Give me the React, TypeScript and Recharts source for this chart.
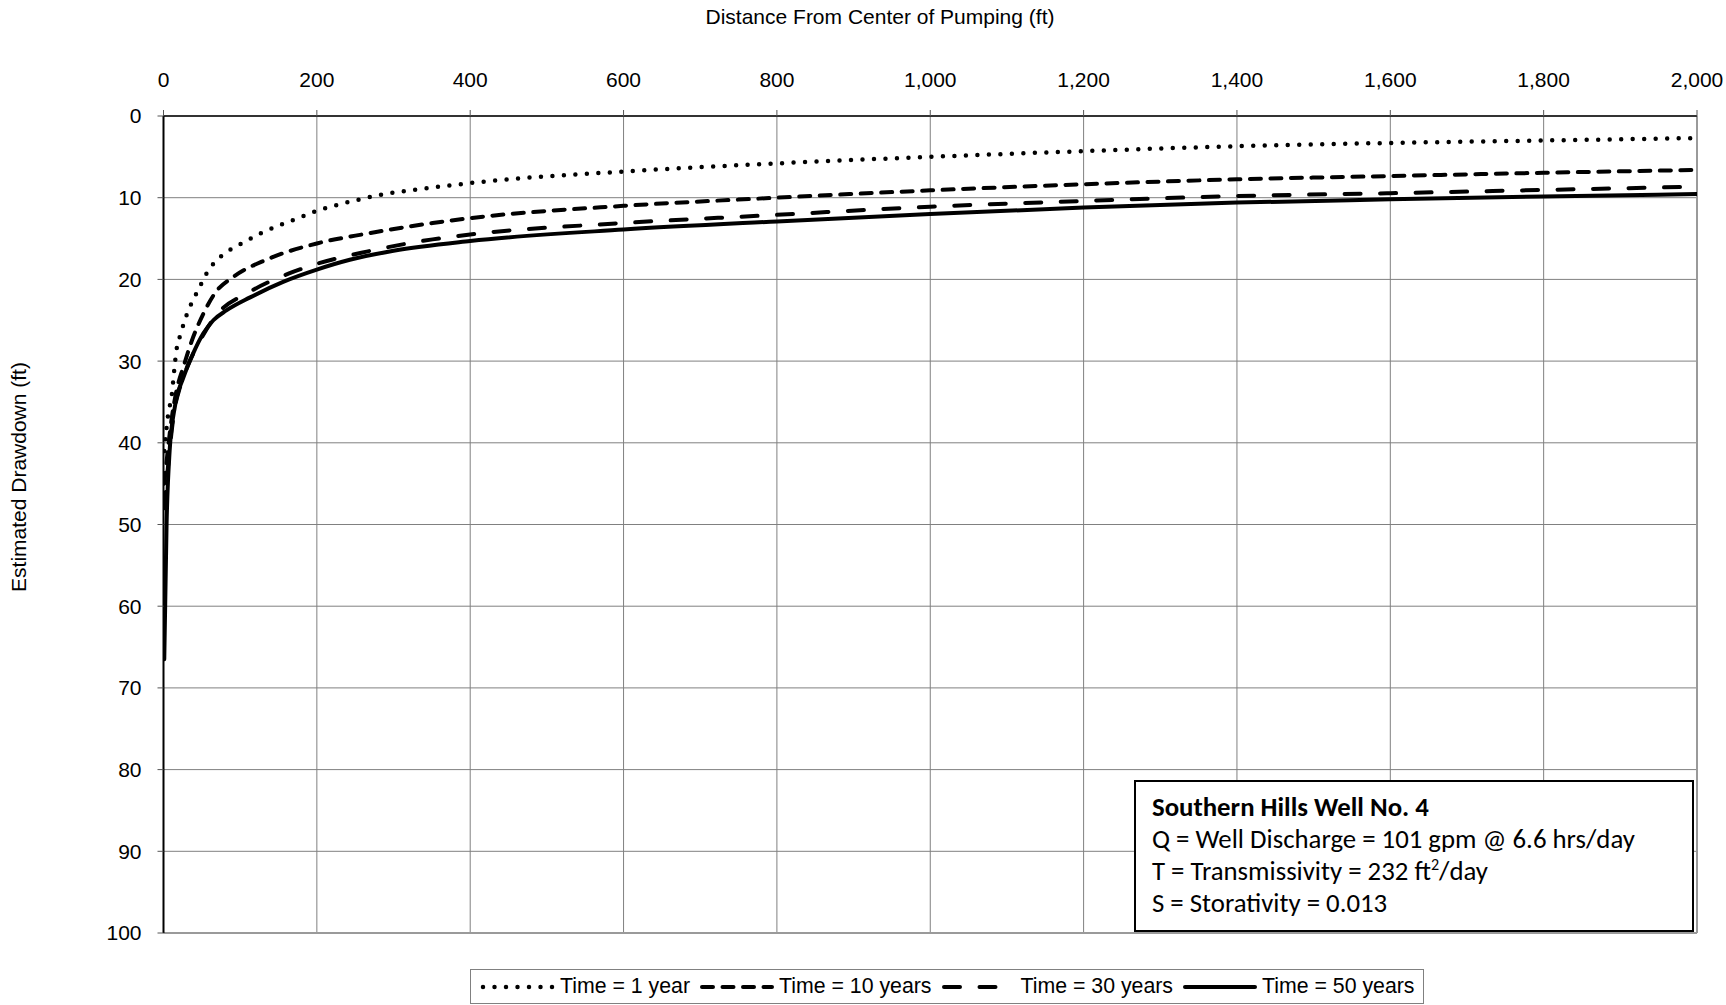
import { LineChart, Line, XAxis, YAxis, CartesianGrid, Legend, ReferenceLine } from 'recharts';

const distanceTicks = [0, 200, 400, 600, 800, 1000, 1200, 1400, 1600, 1800, 2000];
const drawdownTicks = [0, 10, 20, 30, 40, 50, 60, 70, 80, 90, 100];

// Time = 1 year
const dist1yr = [1, 6, 11, 14, 17, 22, 30, 43, 50, 56, 65, 76, 102, 128, 156, 184, 200, 226, 256, 286, 330, 373, 421, 600, 800, 1000, 1200, 1400, 1600, 1800, 2000];
const draw1yr = [41, 36.6, 34, 31.1, 28.6, 26.8, 24.4, 21.7, 20.4, 19.3, 18.1, 17.1, 15.6, 14.3, 13.2, 12.2, 11.6, 10.9, 10.2, 9.6, 9.0, 8.5, 8.0, 6.8, 5.8, 5.0, 4.3, 3.7, 3.3, 3.0, 2.7];

// Time = 10 years
const dist10yr = [1, 11, 17, 26, 37, 52, 67, 91, 134, 200, 265, 351, 400, 600, 800, 1000, 1200, 1400, 1600, 1800, 2000];
const draw10yr = [45, 36.8, 33.6, 30.7, 27.5, 24.2, 21.7, 19.7, 17.6, 15.6, 14.4, 13.1, 12.5, 11.0, 10.0, 9.1, 8.35, 7.75, 7.35, 6.95, 6.6];

// Time = 30 years
const dist30yr = [1, 15, 21.5, 31, 47.6, 67, 113, 163, 200, 265, 351, 400, 600, 800, 1000, 1200, 1400, 1600, 1800, 2000];
const draw30yr = [48, 35.6, 33.2, 30.7, 27.5, 24.6, 21.5, 19.3, 18.1, 16.6, 15.1, 14.5, 13.1, 12.1, 11.1, 10.4, 9.8, 9.45, 9.05, 8.65];

// Time = 50 years
const dist50yr = [1, 4, 8, 15, 26, 39, 52, 65, 82, 113, 156, 200, 243, 300, 400, 600, 800, 1000, 1200, 1400, 1600, 1800, 2000];
const draw50yr = [66.5, 50, 41, 35.5, 32, 29, 26.6, 25, 23.8, 22.2, 20.3, 18.8, 17.6, 16.5, 15.3, 13.9, 12.9, 12.0, 11.2, 10.6, 10.2, 9.85, 9.55];

const SERIES = [
  { key: 'yr1', name: 'Time = 1 year', r: dist1yr, s: draw1yr, width: 4.5, dash: '0 11.5' },
  { key: 'yr10', name: 'Time = 10 years', r: dist10yr, s: draw10yr, width: 4, dash: '11 9.5' },
  { key: 'yr30', name: 'Time = 30 years', r: dist30yr, s: draw30yr, width: 4, dash: '16 19.5' },
  { key: 'yr50', name: 'Time = 50 years', r: dist50yr, s: draw50yr, width: 4, dash: undefined },
];

const ARIAL = '"Liberation Sans", Arial, sans-serif';

function renderLegend() {
  return (
    <div
      style={{
        display: 'flex',
        alignItems: 'center',
        height: 35,
        width: 954,
        boxSizing: 'border-box',
        border: '1px solid #808080',
        background: '#fff',
        paddingLeft: 9,
        fontFamily: ARIAL,
        fontSize: 21.3,
        color: '#000',
        whiteSpace: 'nowrap',
        overflow: 'visible',
      }}
    >
      {SERIES.map(s => (
        <div key={s.key} style={{ display: 'flex', alignItems: 'center', marginRight: 9, flexShrink: 0 }}>
          <svg width={76} height={20} style={{ flexShrink: 0 }}>
            <line
              x1={3}
              x2={73}
              y1={10}
              y2={10}
              stroke="#000"
              strokeWidth={s.width}
              strokeDasharray={s.dash}
              strokeLinecap="round"
            />
          </svg>
          <span style={{ marginLeft: 4, whiteSpace: 'nowrap' }}>{s.name}</span>
        </div>
      ))}
    </div>
  );
}

export default function App() {
  return (
    <div style={{ position: 'absolute', left: 0, top: 0, width: 1726, height: 1005, background: '#fff' }}>
      <LineChart width={1726} height={1005} margin={{ top: 0, right: 29, bottom: 72, left: 0 }}>
        <CartesianGrid stroke="#808080" strokeWidth={1} />
        <XAxis
          type="number"
          dataKey="r"
          orientation="top"
          height={116}
          domain={[0, 2000]}
          ticks={distanceTicks}
          tickFormatter={v => v.toLocaleString('en-US')}
          tick={{ fill: '#000', fontSize: 21, fontFamily: ARIAL }}
          tickSize={6}
          tickMargin={23}
          axisLine={{ stroke: '#333', strokeWidth: 2 }}
          tickLine={{ stroke: '#555' }}
          allowDataOverflow
          label={{
            content: () => (
              <text x={880} y={24} textAnchor="middle" fontSize={21} fontFamily={ARIAL} fill="#000">
                Distance From Center of Pumping (ft)
              </text>
            ),
          }}
        />
        <YAxis
          type="number"
          reversed
          width={163.5}
          domain={[0, 100]}
          ticks={drawdownTicks}
          tick={{ fill: '#000', fontSize: 21, fontFamily: ARIAL }}
          tickSize={6}
          tickMargin={16}
          axisLine={{ stroke: '#000', strokeWidth: 2 }}
          tickLine={{ stroke: '#555' }}
          allowDataOverflow
          label={{
            content: () => (
              <text
                x={26}
                y={477}
                textAnchor="middle"
                fontSize={21}
                fontFamily={ARIAL}
                fill="#000"
                transform="rotate(-90, 26, 477)"
              >
                Estimated Drawdown (ft)
              </text>
            ),
          }}
        />
        <ReferenceLine x={2000} stroke="#9a9a9a" strokeWidth={2} />
        <ReferenceLine y={100} stroke="#9a9a9a" strokeWidth={2} />
        {SERIES.map(s => (
          <Line
            key={s.key}
            name={s.name}
            data={s.r.map((r, i) => ({ r, s: s.s[i] }))}
            dataKey="s"
            type="monotone"
            stroke="#000"
            strokeWidth={s.width}
            strokeDasharray={s.dash}
            strokeLinecap="round"
            dot={false}
            activeDot={false}
            isAnimationActive={false}
          />
        ))}
        <Legend
          layout="horizontal"
          verticalAlign="middle"
          content={renderLegend}
          wrapperStyle={{ left: 470, top: 969, width: 954, height: 35 }}
        />
      </LineChart>
      <div
        style={{
          position: 'absolute',
          left: 1134,
          top: 780,
          width: 560,
          height: 152,
          boxSizing: 'border-box',
          border: '2px solid #000',
          background: '#fff',
          padding: '9px 0 0 16px',
          fontFamily: 'Carlito, Lato, sans-serif',
          fontSize: 26.8,
          lineHeight: '32px',
          color: '#000',
        }}
      >
        <div style={{ fontWeight: 700 }}>Southern Hills Well No. 4</div>
        <div>Q = Well Discharge = 101 gpm @ 6.6 hrs/day</div>
        <div>
          T = Transmissivity = 232 ft<sup style={{ fontSize: '0.6em', lineHeight: 0 }}>2</sup>/day
        </div>
        <div>S = Storativity = 0.013</div>
      </div>
    </div>
  );
}
